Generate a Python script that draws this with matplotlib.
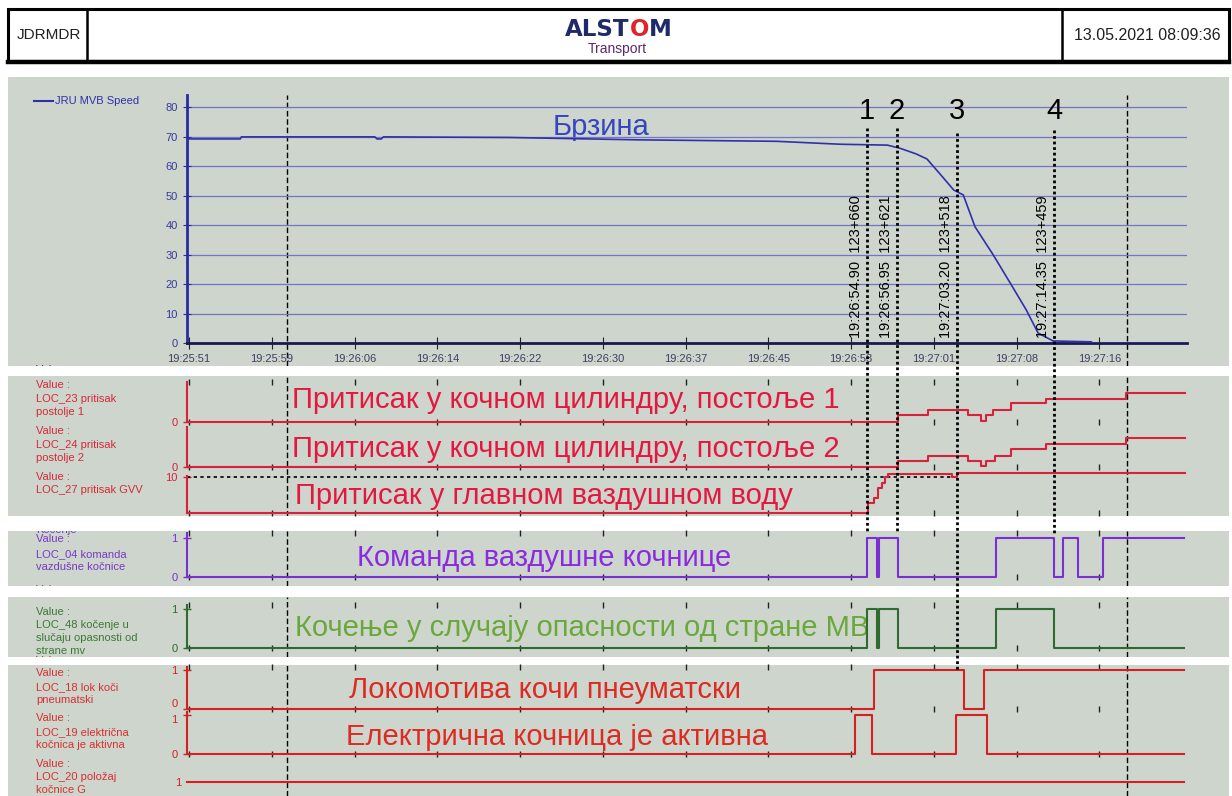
import matplotlib
matplotlib.use("Agg")
import matplotlib.pyplot as plt
from matplotlib.patches import Rectangle

plt.rcParams['font.family'] = ['Liberation Sans', 'DejaVu Sans']

W, H = 1232, 796
X0, X1 = 186.7, 1186.7          # pixel extent of the time axes
XLIM = (-0.22, 93.42)           # seconds after 19:25:51

# ---------------- data (time in s after 19:25:51) ----------------
tick_t = [0, 7.75, 15.5, 23.25, 31, 38.75, 46.5, 54.25, 62, 69.75, 77.5, 85.25]
tick_lbl = ["19:25:51", "19:25:59", "19:26:06", "19:26:14", "19:26:22", "19:26:30",
            "19:26:37", "19:26:45", "19:26:53", "19:27:01", "19:27:08", "19:27:16"]
speed_ticks = [0, 10, 20, 30, 40, 50, 60, 70, 80]

speed_t = [-0.22, 4.8, 4.9, 17.4, 17.6, 18.0, 18.2, 30.0, 42.0, 55.0, 61.0, 65.4, 66.6,
           68.1, 69.1, 70.3, 71.6, 72.5, 73.6, 75.3, 77.0, 78.4, 79.5, 80.9, 84.5, 84.6, 93.3]
speed_v = [69.3, 69.3, 70.0, 70.0, 69.3, 69.3, 70.0, 69.8, 69.0, 68.5, 67.5, 67.2, 66.1,
           64.2, 62.5, 57.5, 52.0, 50.3, 39.5, 30.0, 19.8, 11.3, 3.5, 0.8, 0.5, 0.0, 0.0]

cyl1_t = [-0.22, 66.41, 69.23, 72.97, 74.16, 74.6, 75.3, 76.94, 80.2, 87.7, 93.3]
cyl1_v = [0, 1.05, 1.8, 1.05, 0.15, 1.05, 1.8, 2.8, 3.45, 4.4, 4.4]
cyl2_t = [-0.22, 66.41, 69.23, 72.97, 74.16, 74.6, 75.5, 76.94, 80.2, 87.7, 93.3]
cyl2_v = [0, 0.95, 1.65, 0.95, 0.1, 0.95, 1.65, 2.7, 3.45, 4.3, 4.3]
gvv_t = [-0.22, 63.55, 64.14, 64.54, 64.86, 65.17, 65.48, 71.47, 71.88, 93.3]
gvv_v = [0, 2.8, 4.2, 6.9, 8.3, 10.0, 10.9, 10.0, 11.3, 11.3]
gvv_ref = 10
gvv_ref_end = 71.5

cmd_t = [-0.22, 63.5, 64.45, 64.6, 66.35, 75.56, 81.0, 81.8, 83.2, 85.6, 93.2]
cmd_v = [0, 1, 0, 1, 0, 1, 0, 1, 0, 1, 1]
mb_t = [-0.22, 63.5, 64.45, 64.6, 66.35, 75.56, 81.0, 93.2]
mb_v = [0, 1, 0, 1, 0, 1, 0, 0]
pneu_t = [-0.22, 64.14, 72.6, 74.47, 93.2]
pneu_v = [0, 1, 0, 1, 1]
ed_t = [-0.22, 62.36, 63.98, 71.82, 74.69, 93.2]
ed_v = [0, 1, 0, 1, 0, 0]
g_t = [-0.22, 93.2]
g_v = [1, 1]

cursor_t = [9.2, 87.8]
event_t = [63.5, 66.3, 71.9, 81.0]
event_num = ["1", "2", "3", "4"]
event_lbl = ["19:26:54.90  123+660", "19:26:56.95  123+621",
             "19:27:03.20  123+518", "19:27:14.35  123+459"]

# ---------------- colours ----------------
GREY = '#cdd5cd'
BLUE, BLUE_T = '#3030a8', '#3546c0'
PR_L, PR_T, PR_LB = '#d8213a', '#e5173f', '#d42a3a'
PU_L, PU_T, PU_LB = '#7b2fd0', '#8a2be2', '#7a3ac4'
GR_L, GR_T, GR_LB = '#2f6a2f', '#6aa83c', '#3c7a33'
RD_L, RD_T, RD_LB = '#d42020', '#dd2a22', '#d83030'

fig = plt.figure(figsize=(W / 100, H / 100), dpi=100)
fig.patch.set_facecolor('white')


def rect(x0, y0, x1, y1):
    return [x0 / W, 1 - y1 / H, (x1 - x0) / W, (y1 - y0) / H]


# ---------------- header ----------------
hd = fig.add_axes([0, 0, 1, 1])
hd.set_xlim(0, W)
hd.set_ylim(H, 0)
hd.axis('off')
hd.add_patch(Rectangle((8, 9), 1221, 52, fill=False, lw=2.2, ec='black'))
hd.plot([8, 1229], [61.5, 61.5], color='black', lw=3.2)
hd.plot([87, 87], [9, 61], color='black', lw=1.8)
hd.plot([1062, 1062], [9, 61], color='black', lw=1.8)
hd.text(49, 35, 'JDRMDR', ha='center', va='center', fontsize=11, color='#202020')
hd.text(1147, 35, '13.05.2021 08:09:36', ha='center', va='center', fontsize=11.5, color='#202020')
t1 = hd.text(565, 29, 'ALST', ha='left', va='center', fontsize=16.5, fontweight='bold',
             family='DejaVu Sans', color='#1f2a6b')
t2 = hd.annotate('O', xy=(1, 0), xycoords=t1, ha='left', va='bottom', fontsize=16.5,
                 fontweight='bold', family='DejaVu Sans', color='#e0242a')
hd.annotate('M', xy=(1, 0), xycoords=t2, ha='left', va='bottom', fontsize=16.5,
            fontweight='bold', family='DejaVu Sans', color='#1f2a6b')
hd.text(617, 49, 'Transport', ha='center', va='center', fontsize=10, color='#5b2a6a')

# ---------------- grey panels ----------------
panels = [(77, 366), (376, 516), (531, 586), (597, 657), (665, 796)]
pan = []
for y0, y1 in panels:
    p = fig.add_axes(rect(7.5, y0, 1229, y1))
    p.set_xlim(7.5, 1229)
    p.set_ylim(y1, y0)
    p.set_facecolor(GREY)
    p.set_xticks([])
    p.set_yticks([])
    for s in p.spines.values():
        s.set_visible(False)
    # cursor lines
    c = fig.add_axes(rect(X0, 95 if y0 == 77 else y0, X1, y1))
    c.set_xlim(XLIM)
    c.set_ylim(0, 1)
    c.axis('off')
    for ct in cursor_t:
        c.axvline(ct, color='black', lw=1, ls=(0, (4, 2)))
    pan.append(p)

labels = [
    (0, [("Value :", 370, BLUE)]),
    (1, [("Value :", 385, PR_LB), ("LOC_23 pritisak", 399, PR_LB), ("postolje 1", 412, PR_LB),
         ("Value :", 431, PR_LB), ("LOC_24 pritisak", 445, PR_LB), ("postolje 2", 458, PR_LB),
         ("Value :", 477, PR_LB), ("LOC_27 pritisak GVV", 490, PR_LB)]),
    (2, [("Kočenje", 530, PU_LB), ("Value :", 539, PU_LB), ("LOC_04 komanda", 554, PU_LB),
         ("vazdušne kočnice", 567, PU_LB), ("Value :", 590, PU_LB)]),
    (3, [("Value :", 612, GR_LB), ("LOC_48 kočenje u", 625, GR_LB),
         ("slučaju opasnosti od", 638, GR_LB), ("strane mv", 651, GR_LB), ("Value :", 661, PR_LB)]),
    (4, [("Value :", 673, RD_LB), ("LOC_18 lok koči", 687, RD_LB), ("pneumatski", 700, RD_LB),
         ("Value :", 718, RD_LB), ("LOC_19 električna", 732, RD_LB), ("kočnica je aktivna", 745, RD_LB),
         ("Value :", 764, RD_LB), ("LOC_20 položaj", 777, RD_LB), ("kočnice G", 790, RD_LB)]),
]
for i, items in labels:
    for s, y, col in items:
        pan[i].text(36, y, s, fontsize=8, color=col, ha='left', va='center', clip_on=True)

pan[0].plot([34, 53], [101, 101], color=BLUE, lw=1.5)
pan[0].text(55, 101, 'JRU MVB Speed', fontsize=8, color=BLUE, ha='left', va='center')

big = [
    (0, 553, 127, 'Брзина', BLUE_T),
    (1, 292, 400, 'Притисак у кочном цилиндру, постоље 1', PR_T),
    (1, 292, 449, 'Притисак у кочном цилиндру, постоље 2', PR_T),
    (1, 295, 496, 'Притисак у главном ваздушном воду', PR_T),
    (2, 357, 558, 'Команда ваздушне кочнице', PU_T),
    (3, 295, 628, 'Кочење у случају опасности од стране МВ', GR_T),
    (4, 349, 690, 'Локомотива кочи пнеуматски', RD_T),
    (4, 346, 737, 'Електрична кочница је активна', RD_T),
]
for i, x, y, s, col in big:
    pan[i].text(x, y, s, fontsize=21, color=col, ha='left', va='center', zorder=5)

# ---------------- speed axes ----------------
ax = fig.add_axes(rect(X0, 95, X1, 343.3))
ax.set_xlim(XLIM)
ax.set_ylim(0, 84.2)
ax.patch.set_visible(False)
ax.set_yticks(speed_ticks)
ax.set_xticks(tick_t)
ax.set_xticklabels(tick_lbl)
ax.yaxis.grid(True, color='#7474c8', lw=0.9)
ax.set_axisbelow(True)
ax.spines['top'].set_visible(False)
ax.spines['right'].set_visible(False)
ax.spines['left'].set_color('#2a2aa0')
ax.spines['left'].set_linewidth(2)
ax.spines['bottom'].set_color('#1a1a50')
ax.spines['bottom'].set_linewidth(2)
ax.tick_params(axis='y', direction='inout', length=6, color='#2a2aa0', labelcolor='#3a3a9a', labelsize=8)
ax.tick_params(axis='x', direction='inout', length=8, color='#202020', labelcolor='#404060', labelsize=8)
ax.plot(speed_t, speed_v, color=BLUE, lw=1.2, zorder=3)


# ---------------- signal axes ----------------
def sig_axes(y_top, y_zero, ylim, col, top_ticks=False):
    a = fig.add_axes(rect(X0, y_top, X1, y_zero))
    a.set_xlim(XLIM)
    a.set_ylim(ylim)
    a.patch.set_visible(False)
    for s in ['top', 'right', 'bottom']:
        a.spines[s].set_visible(False)
    a.spines['left'].set_color(col)
    a.spines['left'].set_linewidth(1.5)
    a.set_xticks(tick_t)
    a.set_xticklabels([])
    a.tick_params(axis='x', direction='inout', length=5, width=1, color='#222222', top=top_ticks)
    a.tick_params(axis='y', direction='inout', length=6, width=1, color=col, labelcolor=col, labelsize=8)
    return a


a23 = sig_axes(382, 422, (0, 6), PR_L, top_ticks=True)
a23.set_yticks([0])
a23.step(cyl1_t, cyl1_v, where='post', color=PR_L, lw=1.5, clip_on=False)

a24 = sig_axes(427, 467, (0, 6), PR_L)
a24.set_yticks([0])
a24.step(cyl2_t, cyl2_v, where='post', color=PR_L, lw=1.5, clip_on=False)

a27 = sig_axes(475.5, 513.3, (0, 10.5), PR_L)
a27.set_yticks([gvv_ref])
a27.hlines(gvv_ref, XLIM[0], gvv_ref_end, color='black', lw=1.2, ls=(0, (2, 2)))
a27.step(gvv_t, gvv_v, where='post', color=PR_L, lw=1.5, clip_on=False)

acmd = sig_axes(533, 576.7, (0, 1.12), PU_L, top_ticks=True)
acmd.set_yticks([0, 1])
acmd.step(cmd_t, cmd_v, where='post', color=PU_L, lw=1.5, clip_on=False)

amb = sig_axes(605, 647.7, (0, 1.11), GR_L, top_ticks=True)
amb.set_yticks([0, 1])
amb.step(mb_t, mb_v, where='post', color=GR_L, lw=1.5, clip_on=False)

a18 = sig_axes(667, 709.3, (0, 1.08), RD_L, top_ticks=True)
a18.set_yticks([0, 1])
a18.step(pneu_t, pneu_v, where='post', color=RD_L, lw=1.5, clip_on=False)
for lb in a18.get_yticklabels():
    if lb.get_text() == '0':
        lb.set_verticalalignment('bottom')

a19 = sig_axes(712, 754.3, (0, 1.08), RD_L)
a19.set_yticks([0, 1])
a19.step(ed_t, ed_v, where='post', color=RD_L, lw=1.5, clip_on=False)
for lb in a19.get_yticklabels():
    if lb.get_text() == '1':
        lb.set_verticalalignment('top')

a20 = sig_axes(778, 821, (0, 1.09), RD_L)
a20.spines['left'].set_visible(False)
a20.set_yticks([1])
a20.tick_params(axis='y', length=0)
a20.tick_params(axis='x', length=0)
a20.step(g_t, g_v, where='post', color=RD_L, lw=1.5, clip_on=False)

# ---------------- event markers ----------------
ov = fig.add_axes(rect(X0, 0, X1, H))
ov.set_xlim(XLIM)
ov.set_ylim(H, 0)
ov.axis('off')
ov.set_zorder(10)
ev_top = [128, 128, 133, 130]
ev_bot = [533, 533, 670, 535]
for t, yt, yb, n, lab in zip(event_t, ev_top, ev_bot, event_num, event_lbl):
    ov.vlines(t, yt, yb, colors='black', lw=2, linestyles=(0, (1, 1)))
    ov.text(t, 111, n, fontsize=21, ha='center', va='center', color='black')
    ov.text(t - 0.35, 338, lab, rotation=90, ha='right', va='bottom', fontsize=10.5, color='black')

fig.savefig('out.png', dpi=100)
